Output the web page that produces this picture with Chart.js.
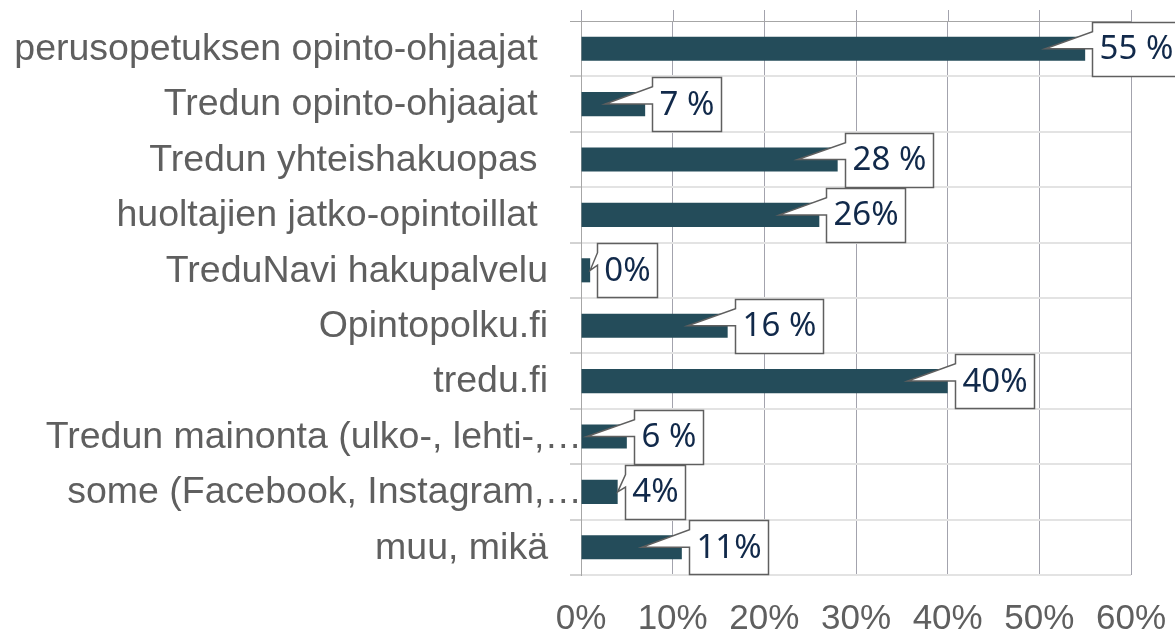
<!DOCTYPE html>
<html>
<head>
<meta charset="utf-8">
<script src="https://cdn.jsdelivr.net/npm/chart.js@4.4.1/dist/chart.umd.min.js"></script>
<style>
  html, body { margin: 0; padding: 0; background: #fff; }
</style>
</head>
<body>
<canvas id="chart" width="1175" height="633"></canvas>
<script>
// Survey: where did you get info about applying (share of respondents)
const categories = [
  'perusopetuksen opinto-ohjaajat ',
  'Tredun opinto-ohjaajat ',
  'Tredun yhteishakuopas ',
  'huoltajien jatko-opintoillat ',
  'TreduNavi hakupalvelu',
  'Opintopolku.fi',
  'tredu.fi',
  'Tredun mainonta (ulko-, lehti-,…',
  'some (Facebook, Instagram,…',
  'muu, mikä'
]
const shares = [55, 7, 28, 26, 1, 16, 40, 5, 4, 11]
const shareLabels = ['55 %', '7 %', '28 %', '26%', '0%', '16 %', '40%', '6 %', '4%', '11%']
const xTicks = [0, 10, 20, 30, 40, 50, 60]

const barColor = '#244c5a'
const labelGrey = '#5f5f5f'

// category names drawn by hand so the truncated ones can run up to the axis like the original
const categoryLabels = {
  id: 'categoryLabels',
  afterDraw(chart) {
    const { ctx, chartArea } = chart
    const yScale = chart.scales.y
    ctx.save()
    ctx.font = '37.5px "Liberation Sans", Arial, sans-serif'
    ctx.fillStyle = labelGrey
    ctx.textAlign = 'right'
    ctx.textBaseline = 'middle'
    categories.forEach((name, i) => {
      const y = yScale.getPixelForValue(i)
      const x = name.endsWith('…') ? chartArea.left + 1 : chartArea.left - 33
      ctx.fillText(name, x, y + 1)
    })
    ctx.restore()
  }
}

// vertical gridlines poke a little above the plot
const gridStubs = {
  id: 'gridStubs',
  beforeDatasetsDraw(chart) {
    const { ctx, chartArea } = chart
    const xScale = chart.scales.x
    ctx.save()
    ctx.strokeStyle = '#a3a3ad'
    ctx.lineWidth = 1
    xTicks.forEach(v => {
      const x = Math.round(xScale.getPixelForValue(v)) + 0.5
      ctx.beginPath()
      ctx.moveTo(x, chartArea.top - 11)
      ctx.lineTo(x, chartArea.top)
      ctx.stroke()
    })
    ctx.restore()
  }
}

// Excel-style wedge callouts with the value text
const callouts = {
  id: 'callouts',
  afterDatasetsDraw(chart) {
    const ctx = chart.ctx
    const meta = chart.getDatasetMeta(0)
    const yScale = chart.scales.y
    const band = (yScale.bottom - yScale.top) / categories.length
    ctx.save()
    ctx.font = '33px "Noto Sans", sans-serif'
    meta.data.forEach((bar, i) => {
      const text = shareLabels[i]
      const end = bar.x
      const cy = bar.y
      const w = Math.round(ctx.measureText(text).width + 14)
      const h = Math.round(band - 1.5)
      const left = Math.round(end + 7) + 0.5
      const top = Math.round(cy - h / 2) + 0.5

      const longBar = end - 40 >= bar.base + 5
      const tipX = longBar ? end - 40 : end
      const tipY = cy
      const upperY = top + h * 0.17
      const lowerY = longBar ? cy : top + h * 0.4

      ctx.beginPath()
      ctx.moveTo(left, top)
      ctx.lineTo(left + w, top)
      ctx.lineTo(left + w, top + h)
      ctx.lineTo(left, top + h)
      ctx.lineTo(left, lowerY)
      ctx.lineTo(tipX, tipY)
      ctx.lineTo(left, upperY)
      ctx.closePath()
      ctx.fillStyle = '#ffffff'
      ctx.fill()
      ctx.strokeStyle = '#5f5f5f'
      ctx.lineWidth = 1.5
      ctx.stroke()

      ctx.fillStyle = '#11294a'
      ctx.textAlign = 'center'
      ctx.textBaseline = 'middle'
      ctx.fillText(text, left + w / 2, cy + 1)
    })
    ctx.restore()
  }
}

new Chart(document.getElementById('chart'), {
  type: 'bar',
  data: {
    labels: categories,
    datasets: [{
      data: shares,
      backgroundColor: barColor,
      borderWidth: 0,
      barPercentage: 0.435,
      categoryPercentage: 1
    }]
  },
  options: {
    indexAxis: 'y',
    responsive: false,
    devicePixelRatio: 1,
    animation: false,
    layout: {
      padding: { left: 0, top: 21, right: 44, bottom: 0 }
    },
    scales: {
      x: {
        min: 0,
        max: 60,
        afterFit: (scale) => {
          scale.height = 58
          scale.paddingLeft = 0
          scale.paddingRight = 0
        },
        afterBuildTicks: (scale) => { scale.ticks = xTicks.map(v => ({ value: v })) },
        border: { display: false },
        grid: {
          color: '#a3a3ad',
          lineWidth: 1,
          drawTicks: false
        },
        ticks: {
          padding: 23,
          color: labelGrey,
          font: { family: '"Liberation Sans", Arial, sans-serif', size: 35 },
          callback: (v) => v + '%'
        }
      },
      y: {
        afterFit: (scale) => { scale.width = 581 },
        border: { display: true, color: '#a6a6a6', width: 1 },
        grid: {
          offset: true,
          color: (c) => c.index === 0 ? '#a6a6a6' : '#e3e3e3',
          lineWidth: (c) => c.index === 0 ? 1 : 2,
          tickColor: '#a6a6a6',
          tickWidth: 1,
          tickLength: 11
        },
        ticks: { display: false }
      }
    },
    plugins: {
      legend: { display: false },
      tooltip: { enabled: false }
    }
  },
  plugins: [gridStubs, callouts, categoryLabels]
})
</script>
</body>
</html>
